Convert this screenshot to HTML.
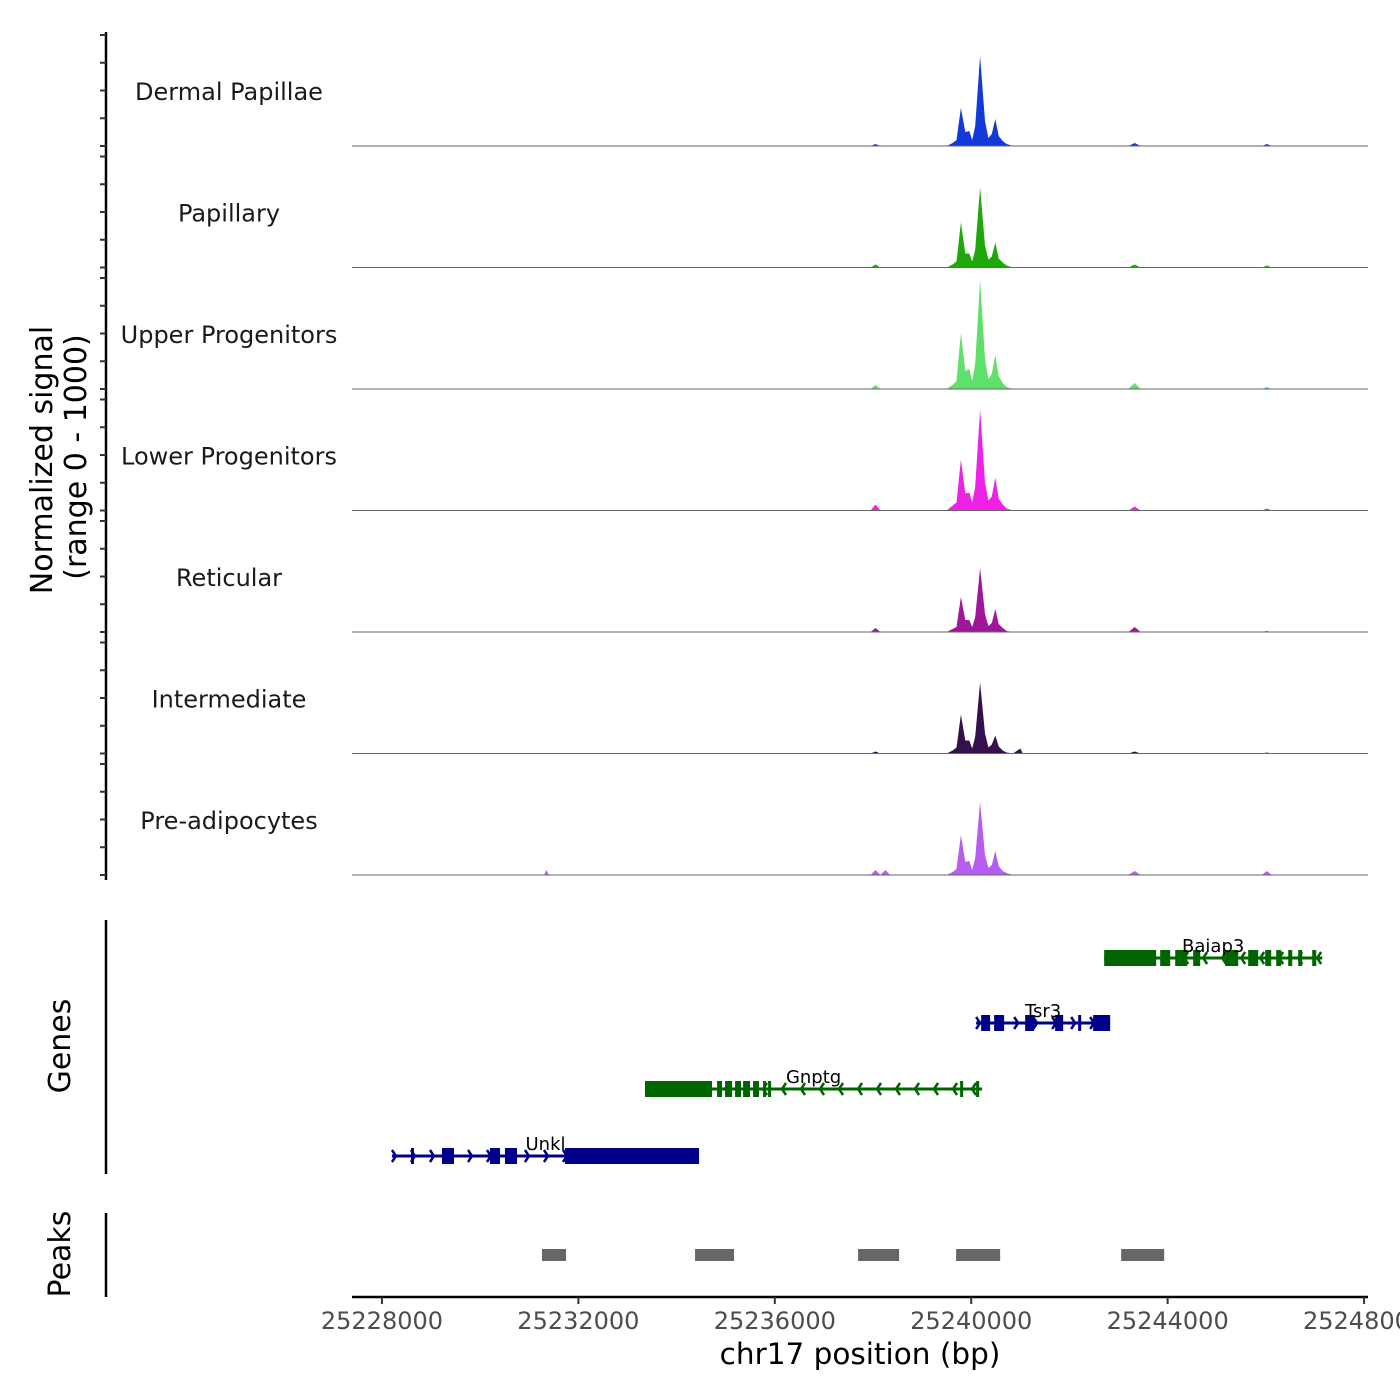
<!DOCTYPE html>
<html><head><meta charset="utf-8"><style>
html,body{margin:0;padding:0;background:#fff}
svg{display:block;font-family:"DejaVu Sans","Liberation Sans",sans-serif}
</style></head><body>
<svg id="chart" width="1400" height="1400" viewBox="0 0 1400 1400" xmlns="http://www.w3.org/2000/svg">
<g id="tracks"></g>
<g id="genes"></g>
<g id="peaks"></g>
<g id="axes">
  <line x1="106" y1="32" x2="106" y2="880" stroke="#000" stroke-width="2.5"/>
  <line x1="106" y1="920" x2="106" y2="1174" stroke="#000" stroke-width="2.5"/>
  <line x1="106" y1="1213" x2="106" y2="1297" stroke="#000" stroke-width="2.5"/>
  <line x1="352" y1="1297" x2="1368" y2="1297" stroke="#000" stroke-width="2.5"/>
  <text transform="translate(52,460) rotate(-90)" text-anchor="middle" font-size="30" fill="#000">Normalized signal</text>
  <text transform="translate(86,457) rotate(-90)" text-anchor="middle" font-size="30" fill="#000">(range 0 - 1000)</text>
  <text transform="translate(70,1046) rotate(-90)" text-anchor="middle" font-size="30" fill="#000">Genes</text>
  <text transform="translate(70,1254) rotate(-90)" text-anchor="middle" font-size="30" fill="#000">Peaks</text>
  <text x="860" y="1364" text-anchor="middle" font-size="29.5" fill="#000">chr17 position (bp)</text>
</g>
</svg>
<script>
const positions=[25227400,25231300,25231350,25231400,25237950,25238050,25238150,25238250,25238350,25239500,25239620,25239700,25239790,25239880,25239960,25240020,25240080,25240180,25240280,25240350,25240420,25240490,25240560,25240640,25240720,25240850,25241000,25241050,25241100,25243200,25243330,25243450,25245920,25246020,25246120,25248080];
const trackNames=["Dermal Papillae","Papillary","Upper Progenitors","Lower Progenitors","Reticular","Intermediate","Pre-adipocytes"];
const trackColors=["#1239d9","#1ea80a","#5ee06a","#ee22e6","#a0169a","#35104f","#b65cf0"];
const dermalValues=[0,0,0,0,0,2,0,0,0,0,3,6,38,14,15,6,20,90,25,8,12,27,10,5,2,0,0,0,0,0,3,0,0,2,0,0];
const papillaryValues=[0,0,0,0,0,3,0,0,0,0,3,6,45,14,14,6,18,80,22,8,11,25,9,5,2,0,0,0,0,0,3,0,0,2,0,0];
const upperValues=[0,0,0,0,0,4,0,0,0,0,4,8,56,18,20,8,25,109,30,10,15,34,13,6,2,0,0,0,0,0,6,0,0,2,0,0];
const lowerValues=[0,0,0,0,0,6,0,0,0,0,5,8,51,17,18,8,24,101,28,10,14,33,12,6,2,0,0,0,0,0,4,0,0,2,0,0];
const reticularValues=[0,0,0,0,0,4,0,0,0,0,3,5,35,12,12,5,15,64,18,6,9,23,8,4,1,0,0,0,0,0,5,0,0,1,0,0];
const intermediateValues=[0,0,0,0,0,2,0,0,0,0,3,6,39,13,13,5,17,71,20,6,9,18,7,3,1,0,5,0,0,0,2,0,0,1,0,0];
const preadipoValues=[0,0,5,0,0,5,0,5,0,0,3,6,40,13,14,5,17,73,20,7,10,24,9,4,2,0,0,0,0,0,4,0,0,4,0,0];
const xTicks=[25228000,25232000,25236000,25240000,25244000,25248000];
const xTickLabels=["25228000","25232000","25236000","25240000","25244000","25248000"];
const geneNames=["Unkl","Gnptg","Tsr3","Baiap3"];
const geneStrands=["+","-","+","-"];
const geneSpans=[[25228204,25234457],[25233357,25240222],[25240100,25242829],[25242707,25247148]];
const unklExons=[[25228591,25228652],[25229222,25229467],[25230200,25230404],[25230505,25230750],[25231728,25234457]];
const gnptgExons=[[25233357,25234722],[25234824,25234926],[25234987,25235130],[25235191,25235313],[25235354,25235496],[25235557,25235679],[25235761,25235822],[25235863,25235924],[25239774,25239835],[25240100,25240161]];
const tsr3Exons=[[25240202,25240385],[25240466,25240670],[25241098,25241281],[25241709,25241872],[25242178,25242219],[25242483,25242829]];
const baiap3Exons=[[25242707,25243766],[25243848,25244052],[25244154,25244398],[25244520,25244663],[25245172,25245437],[25245640,25245844],[25245987,25246109],[25246211,25246313],[25246455,25246537],[25246659,25246740],[25246944,25247026]];
const peakStarts=[25231259,25234376,25237696,25239692,25243053];
const peakEnds=[25231748,25235170,25238531,25240589,25243929];

const NS="http://www.w3.org/2000/svg";
const xMin=25227390,xMax=25248080,pxMin=352,pxMax=1368;
function xScale(v){return pxMin+(v-xMin)/(xMax-xMin)*(pxMax-pxMin);}
const trackTop=25,trackH=121.5;
function baseY(i){return trackTop+(i+1)*trackH-0.5;}
function yScale(i,v){return baseY(i)-v;}
function mk(tag,attrs,parent){const e=document.createElementNS(NS,tag);for(const k in attrs)e.setAttribute(k,attrs[k]);parent.appendChild(e);return e;}

const allValues=[dermalValues,papillaryValues,upperValues,lowerValues,reticularValues,intermediateValues,preadipoValues];
const tg=document.getElementById('tracks');
const ax=document.getElementById('axes');
allValues.forEach((vals,i)=>{
  let d="M"+xScale(positions[0])+","+baseY(i);
  positions.forEach((p,j)=>{d+=" L"+xScale(p).toFixed(1)+","+yScale(i,vals[j]).toFixed(1);});
  d+=" L"+xScale(positions[positions.length-1])+","+baseY(i)+" Z";
  const a=mk('path',{d:d,fill:trackColors[i]},tg);
  
  
  const l=mk('line',{x1:pxMin,x2:pxMax,y1:baseY(i),y2:baseY(i),stroke:"#666","stroke-width":1},tg);
  
  
  const t=mk('text',{x:229,y:baseY(i)-46,"text-anchor":"middle","font-size":24,fill:"#1a1a1a"},tg);
  t.textContent=trackNames[i];
  
  
  for(let k=0;k<5;k++){
    const y=baseY(i)-k*27.75;
    const tk=mk('line',{x1:100,x2:106,y1:y,y2:y,stroke:"#333","stroke-width":2},ax);
    
    
  }
});

const gg=document.getElementById('genes');
const geneY=[1156,1089,1023,958];
const geneCol=["#00008b","#006400","#00008b","#006400"];
const geneExons=[unklExons,gnptgExons,tsr3Exons,baiap3Exons];
geneNames.forEach((n,i)=>{
  const y=geneY[i],c=geneCol[i];
  const x1=xScale(geneSpans[i][0]),x2=xScale(geneSpans[i][1]);
  const ln=mk('line',{x1:x1,x2:x2,y1:y,y2:y,stroke:c,"stroke-width":3},gg);
  
  
  for(let x=x1+4;x<x2;x+=19){
    const s=geneStrands[i]==="+"?-1:1;
    const ar=mk('polyline',{points:(x+s*4)+","+(y-6)+" "+x+","+y+" "+(x+s*4)+","+(y+6),fill:"none",stroke:c,"stroke-width":2.5},gg);
    
    
  }
  geneExons[i].forEach(e=>{
    const ex=mk('rect',{x:xScale(e[0]),y:y-8,width:Math.max(3,xScale(e[1])-xScale(e[0])),height:16,fill:c},gg);
    
    
  });
  const t=mk('text',{x:(x1+x2)/2,y:y-6,"text-anchor":"middle","font-size":18,fill:"#000"},gg);
  t.textContent=n;
  
  
});

const pg=document.getElementById('peaks');
peakStarts.forEach((s,i)=>{
  const r=mk('rect',{x:xScale(s),y:1249,width:xScale(peakEnds[i])-xScale(s),height:12,fill:"#666"},pg);
  
  
});

xTicks.forEach((v,i)=>{
  const x=xScale(v);
  const tk=mk('line',{x1:x,x2:x,y1:1297,y2:1304,stroke:"#333","stroke-width":2},ax);
  
  
  const t=mk('text',{x:x,y:1329,"text-anchor":"middle","font-size":24,fill:"#4d4d4d"},ax);
  t.textContent=xTickLabels[i];
  
  
});
</script>
</body></html>
